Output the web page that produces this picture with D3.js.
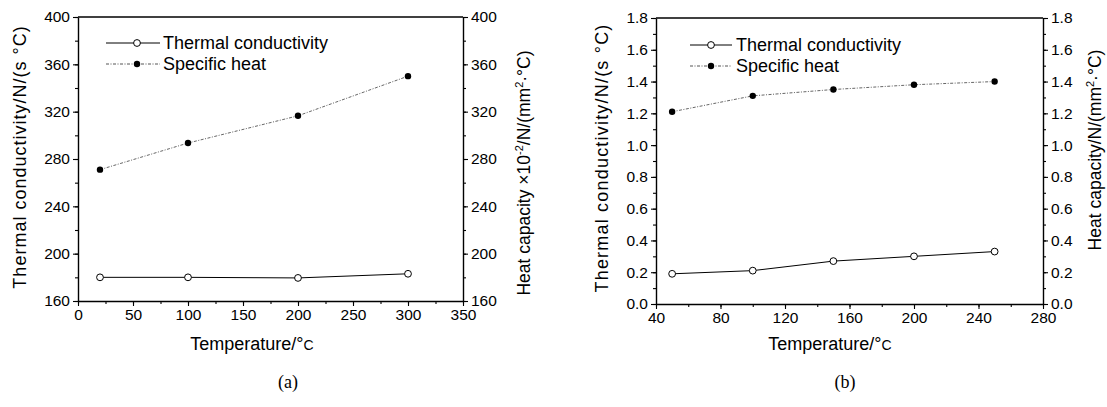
<!DOCTYPE html>
<html><head><meta charset="utf-8">
<script src="https://cdn.jsdelivr.net/npm/d3@7"></script>
<style>
body{margin:0;background:#fff;}
svg text{font-family:"Liberation Sans",Arial,sans-serif;fill:#000;}
</style></head>
<body><svg id="c" width="1107" height="407"></svg>
<script>
// Panel (a)
const tempA = [20, 100, 200, 300];
const condA = [180, 180, 179.5, 183];
const heatA = [271, 293.5, 316.5, 350];
const xTicksA = [0, 50, 100, 150, 200, 250, 300, 350];
const yTicksA = [160, 200, 240, 280, 320, 360, 400];
// Panel (b)
const tempB = [50, 100, 150, 200, 250];
const condB = [0.19, 0.21, 0.27, 0.30, 0.33];
const heatB = [1.21, 1.31, 1.35, 1.38, 1.40];
const xTicksB = [40, 80, 120, 160, 200, 240, 280];
const yTicksB = [0.0, 0.2, 0.4, 0.6, 0.8, 1.0, 1.2, 1.4, 1.6, 1.8];
const legendNames = ["Thermal conductivity", "Specific heat"];

const svg = d3.select("#c");
const DASH = "3,1.5,1,1.5";

function panel(o){
  const g = svg.append("g");
  const x = d3.scaleLinear().domain(o.xDom).range([o.left, o.right]);
  const y = d3.scaleLinear().domain(o.yDom).range([o.bottom, o.top]);
  g.append("line").attr("x1",o.left).attr("x2",o.right).attr("y1",o.top).attr("y2",o.top)
    .attr("stroke","#000").attr("stroke-width",1.4);
  const fmtY = o.fmtY;
  // minor ticks
  g.append("g").attr("transform",`translate(0,${o.bottom})`)
    .call(d3.axisBottom(x).tickValues(d3.range(o.xDom[0], o.xDom[1]+1e-9, o.xMinor)).tickSize(3).tickFormat(""))
    .call(s=>s.select(".domain").remove());
  g.append("g").attr("transform",`translate(${o.left},0)`)
    .call(d3.axisLeft(y).tickValues(d3.range(o.yDom[0], o.yDom[1]+1e-9, o.yMinor)).tickSize(3).tickFormat(""))
    .call(s=>s.select(".domain").remove());
  g.append("g").attr("transform",`translate(${o.right},0)`)
    .call(d3.axisRight(y).tickValues(d3.range(o.yDom[0], o.yDom[1]+1e-9, o.yMinor)).tickSize(3).tickFormat(""))
    .call(s=>s.select(".domain").remove());
  // major axes
  g.append("g").attr("transform",`translate(0,${o.bottom})`)
    .call(d3.axisBottom(x).tickValues(o.xTicks).tickSize(5).tickSizeOuter(0).tickPadding(3));
  g.append("g").attr("transform",`translate(${o.left},0)`)
    .call(d3.axisLeft(y).tickValues(o.yTicks).tickSize(5).tickSizeOuter(0).tickPadding(3).tickFormat(fmtY));
  g.append("g").attr("transform",`translate(${o.right},0)`)
    .call(d3.axisRight(y).tickValues(o.yTicks).tickSize(5).tickSizeOuter(0).tickPadding(3).tickFormat(fmtY));
  g.selectAll(".domain").attr("stroke-width",1.4);
  g.selectAll(".tick line").attr("stroke-width",1.1);
  g.selectAll(".tick text").attr("font-size",15.5).attr("fill","#000")
    .attr("font-family","Liberation Sans, Arial, sans-serif");

  // lines
  const lineGen = (xs, ys) => d3.line().x((d,i)=>x(xs[i])).y((d,i)=>y(ys[i]))(xs);
  g.append("path").attr("d", lineGen(o.temps, o.heat)).attr("fill","none")
    .attr("stroke","#555").attr("stroke-width",0.9).attr("stroke-dasharray",DASH);
  g.append("path").attr("d", lineGen(o.temps, o.cond)).attr("fill","none")
    .attr("stroke","#000").attr("stroke-width",1);
  g.selectAll(".mh").data(o.temps).join("circle").attr("class","mh")
    .attr("cx",(d)=>x(d)).attr("cy",(d,i)=>y(o.heat[i])).attr("r",3.2).attr("fill","#000");
  g.selectAll(".mc").data(o.temps).join("circle").attr("class","mc")
    .attr("cx",(d)=>x(d)).attr("cy",(d,i)=>y(o.cond[i])).attr("r",3.4).attr("fill","#fff")
    .attr("stroke","#000").attr("stroke-width",1);

  // legend
  const L = o.legend;
  legendNames.forEach((name,i)=>{
    const ly = L.y + i*21;
    g.append("line").attr("x1",L.x1).attr("x2",L.x2).attr("y1",ly).attr("y2",ly)
      .attr("stroke", i===0?"#000":"#555").attr("stroke-width",1)
      .attr("stroke-dasharray", i===0?null:DASH);
    const c = g.append("circle").attr("cx",L.mx).attr("cy",ly).attr("r",i===0?3.4:3.2);
    if(i===0) c.attr("fill","#fff").attr("stroke","#000"); else c.attr("fill","#000");
    g.append("text").attr("x",L.tx).attr("y",ly+6).attr("font-size",18).text(name);
  });

  // axis titles
  const xt = g.append("text").attr("x",o.xtx).attr("y",350).attr("text-anchor","middle").attr("font-size",18);
  xt.append("tspan").text("Temperature/°");
  xt.append("tspan").attr("font-size",14).text("C");

  g.append("text").attr("transform",`translate(${o.ltx},${o.lty}) rotate(-90)`)
    .attr("text-anchor","middle").attr("font-size",18).attr("letter-spacing",o.lsp)
    .text("Thermal conductivity/N/(s °C)");

  const rt = g.append("text").attr("transform",`translate(${o.rtx},${o.rty}) rotate(-90)`)
    .attr("text-anchor","middle").attr("font-size",17.5);
  o.rightTitle.forEach(p=>{
    const t = rt.append("tspan").text(p.t);
    if(p.sup){ t.attr("font-size",11).attr("dy",-7); }
    if(p.after){ t.attr("dy",7); }
  });

  svg.append("text").attr("x",o.labX).attr("y",388).attr("text-anchor","middle")
    .style("font-family","'Liberation Serif','Times New Roman',serif")
    .attr("font-size",18).text(o.lab);
}

panel({
  left:78, right:463, top:17, bottom:301,
  xDom:[0,350], yDom:[160,400], xTicks:xTicksA, yTicks:yTicksA, xMinor:25, yMinor:20,
  fmtY:d3.format("d"), temps:tempA, cond:condA, heat:heatA,
  legend:{x1:106, x2:160, mx:137, tx:163, y:43},
  xtx:252, ltx:26, lty:157, lsp:1, rtx:530, rty:173,
  rightTitle:[{t:"Heat capacity ×10"},{t:"-2",sup:true},{t:"/N/(mm",after:true},{t:"2",sup:true},{t:"·°C)",after:true}],
  labX:288, lab:"(a)"
});
panel({
  left:656, right:1043, top:18, bottom:304,
  xDom:[40,280], yDom:[0,1.8], xTicks:xTicksB, yTicks:yTicksB, xMinor:20, yMinor:0.1,
  fmtY:d3.format(".1f"), temps:tempB, cond:condB, heat:heatB,
  legend:{x1:690, x2:732, mx:711, tx:736, y:45},
  xtx:830, ltx:608, lty:158, lsp:1.2, rtx:1101, rty:150,
  rightTitle:[{t:"Heat capacity/N/(mm"},{t:"2",sup:true},{t:"·°C)",after:true}],
  labX:845, lab:"(b)"
});
</script></body></html>
